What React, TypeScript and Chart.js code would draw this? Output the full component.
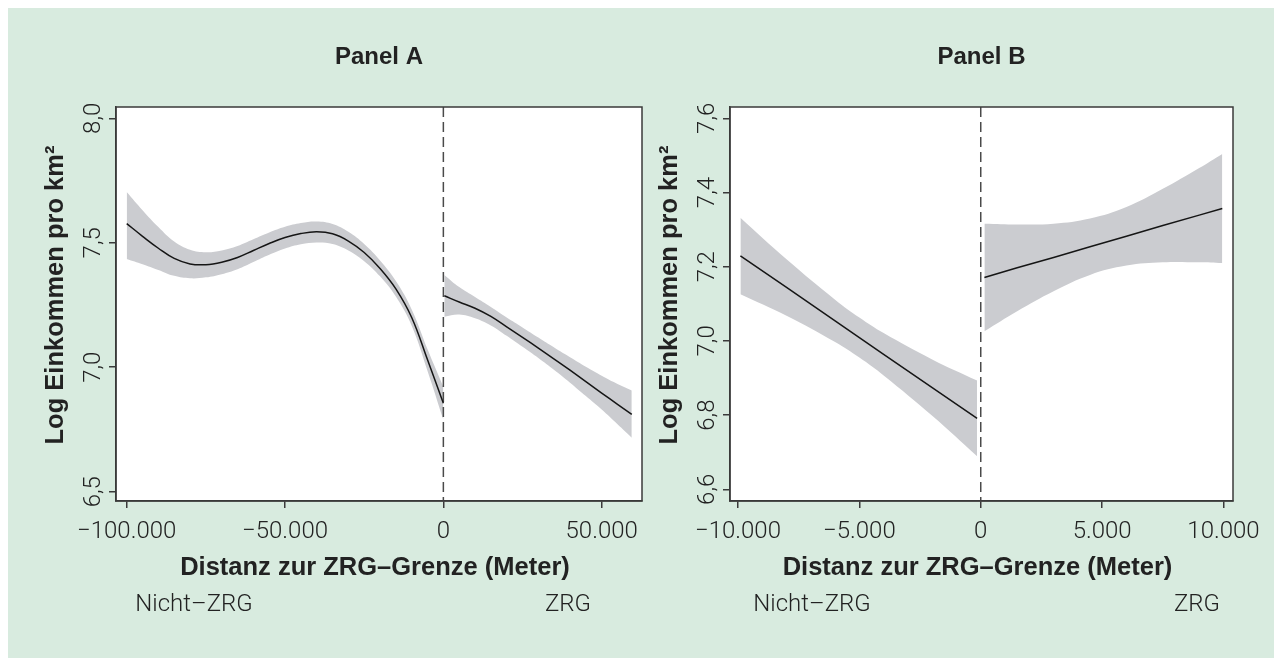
import React, { useEffect, useRef } from 'react';
import { Chart, registerables } from 'chart.js';

Chart.register(...registerables);

// ---------- Panel A data (distance in metres, log income per km²) ----------
const A_LEFT_X = [-100000, -95000, -90000, -85000, -80000, -75000, -70000, -65000, -60000, -55000, -50000, -45000, -40000, -35000, -30000, -25000, -20000, -15000, -10000, -5000, 0];
const A_LEFT_FIT = [7.577, 7.526, 7.478, 7.437, 7.415, 7.412, 7.422, 7.441, 7.469, 7.497, 7.521, 7.537, 7.544, 7.536, 7.507, 7.461, 7.397, 7.315, 7.2, 7.03, 6.855];
const A_LEFT_UPPER = [7.704, 7.631, 7.563, 7.505, 7.472, 7.462, 7.469, 7.487, 7.514, 7.541, 7.564, 7.579, 7.585, 7.575, 7.544, 7.495, 7.429, 7.346, 7.232, 7.072, 6.921];
const A_LEFT_LOWER = [7.435, 7.414, 7.391, 7.367, 7.357, 7.361, 7.374, 7.394, 7.423, 7.452, 7.477, 7.494, 7.501, 7.495, 7.469, 7.426, 7.365, 7.284, 7.167, 6.985, 6.789];

const A_RIGHT_X = [300, 5000, 10000, 15000, 20000, 25000, 30000, 35000, 40000, 45000, 50000, 55000, 59500];
const A_RIGHT_FIT = [7.287, 7.262, 7.237, 7.204, 7.162, 7.12, 7.077, 7.033, 6.988, 6.942, 6.896, 6.851, 6.811];
const A_RIGHT_UPPER = [7.371, 7.322, 7.282, 7.242, 7.2, 7.16, 7.119, 7.079, 7.04, 7.002, 6.966, 6.933, 6.907];
const A_RIGHT_LOWER = [7.203, 7.212, 7.197, 7.168, 7.126, 7.082, 7.037, 6.989, 6.938, 6.884, 6.83, 6.771, 6.717];

const A_X_TICKS = [-100000, -50000, 0, 50000];
const A_Y_TICKS = [6.5, 7.0, 7.5, 8.0];

// ---------- Panel B data ----------
const B_LEFT_X = [-9900, -8000, -6000, -5000, -4000, -2000, -150];
const B_LEFT_FIT = [7.229, 7.144, 7.054, 7.009, 6.964, 6.874, 6.791];
const B_LEFT_UPPER = [7.332, 7.22, 7.111, 7.063, 7.021, 6.95, 6.893];
const B_LEFT_LOWER = [7.126, 7.068, 6.997, 6.955, 6.907, 6.798, 6.689];

const B_RIGHT_X = [150, 1500, 3000, 4500, 6000, 7500, 9000, 9950];
const B_RIGHT_FIT = [7.171, 7.197, 7.225, 7.254, 7.282, 7.311, 7.339, 7.357];
const B_RIGHT_UPPER = [7.316, 7.314, 7.316, 7.33, 7.361, 7.41, 7.466, 7.504];
const B_RIGHT_LOWER = [7.026, 7.08, 7.134, 7.178, 7.203, 7.212, 7.212, 7.21];

const B_X_TICKS = [-10000, -5000, 0, 5000, 10000];
const B_Y_TICKS = [6.6, 6.8, 7.0, 7.2, 7.4, 7.6];

// ---------- texts ----------
const X_TITLE = 'Distanz zur ZRG\u2013Grenze (Meter)';
const Y_TITLE = 'Log Einkommen pro km\u00B2';
const LEFT_LABEL = 'Nicht\u2013ZRG';
const RIGHT_LABEL = 'ZRG';

// ---------- style ----------
const BG = '#d8ebdf';
const BAND = '#cbccd0';
const LINE = '#151515';
const FRAME = '#3a3a3a';
const TEXT = '#222222';
const TICK_FONT = '300 24px Roboto, "Liberation Sans", Arial, sans-serif';
const TITLE_FONT = 'bold 24px "Liberation Sans", Arial, sans-serif';
const AXIS_TITLE_FONT = 'bold 25.5px "Liberation Sans", Arial, sans-serif';
const H = 650;

function fmtX(v: number): string {
  const s = Math.abs(v).toString().replace(/\B(?=(\d{3})+(?!\d))/g, '.');
  return v < 0 ? '\u2212' + s : s;
}
function fmtY(v: number): string {
  return v.toFixed(1).replace('.', ',');
}
function pts(xs: number[], ys: number[]) {
  return xs.map((x, i) => ({ x, y: ys[i] }));
}

type Series = { x: number[]; fit: number[]; up: number[]; lo: number[] };
type Panel = {
  title: string;
  width: number;
  yAxisWidth: number;
  padRight: number;
  xMin: number; xMax: number; yMin: number; yMax: number;
  xTicks: number[]; yTicks: number[];
  left: Series;
  right: Series;
  fitTension: number;
  leftLabelX: number; rightLabelX: number; // canvas px centres of region labels
};

const PANEL_A: Panel = {
  title: 'Panel A', width: 640, yAxisWidth: 108, padRight: 6,
  xMin: -103380, xMax: 62730, yMin: 6.4626, yMax: 8.0454,
  xTicks: A_X_TICKS, yTicks: A_Y_TICKS,
  left: { x: A_LEFT_X, fit: A_LEFT_FIT, up: A_LEFT_UPPER, lo: A_LEFT_LOWER },
  right: { x: A_RIGHT_X, fit: A_RIGHT_FIT, up: A_RIGHT_UPPER, lo: A_RIGHT_LOWER },
  fitTension: 0.4,
  leftLabelX: 186, rightLabelX: 560,
};

const PANEL_B: Panel = {
  title: 'Panel B', width: 626, yAxisWidth: 82, padRight: 41,
  xMin: -10329, xMax: 10391, yMin: 6.5685, yMax: 7.6305,
  xTicks: B_X_TICKS, yTicks: B_Y_TICKS,
  left: { x: B_LEFT_X, fit: B_LEFT_FIT, up: B_LEFT_UPPER, lo: B_LEFT_LOWER },
  right: { x: B_RIGHT_X, fit: B_RIGHT_FIT, up: B_RIGHT_UPPER, lo: B_RIGHT_LOWER },
  fitTension: 0,
  leftLabelX: 164, rightLabelX: 549,
};

function makeDecor(p: Panel) {
  return {
    id: 'decor',
    beforeDraw(chart: any) {
      const { ctx, chartArea: a } = chart;
      ctx.save();
      ctx.fillStyle = '#ffffff';
      ctx.fillRect(a.left, a.top, a.right - a.left, a.bottom - a.top);
      ctx.restore();
    },
    afterDraw(chart: any) {
      const { ctx, chartArea: a, scales } = chart;
      const xs = scales.x;
      const ys = scales.y;
      ctx.save();
      ctx.strokeStyle = FRAME;
      ctx.lineWidth = 1.5;
      ctx.strokeRect(a.left, a.top, a.right - a.left, a.bottom - a.top);

      ctx.fillStyle = TEXT;
      ctx.textAlign = 'center';
      ctx.textBaseline = 'middle';

      ctx.font = TICK_FONT;
      p.xTicks.forEach((v) => ctx.fillText(fmtX(v), xs.getPixelForValue(v), a.bottom + 31));
      p.yTicks.forEach((v) => {
        ctx.save();
        ctx.translate(a.left - 22, ys.getPixelForValue(v));
        ctx.rotate(-Math.PI / 2);
        ctx.fillText(fmtY(v), 0, 0);
        ctx.restore();
      });

      ctx.fillText(LEFT_LABEL, p.leftLabelX, a.bottom + 104);
      ctx.fillText(RIGHT_LABEL, p.rightLabelX, a.bottom + 104);

      const cx = (a.left + a.right) / 2;
      ctx.font = TITLE_FONT;
      ctx.fillText(p.title, cx, 49);
      ctx.font = AXIS_TITLE_FONT;
      ctx.fillText(X_TITLE, cx - 4, a.bottom + 67);
      ctx.save();
      ctx.translate(a.left - 60, (a.top + a.bottom) / 2 - 9);
      ctx.rotate(-Math.PI / 2);
      ctx.fillText(Y_TITLE, 0, 0);
      ctx.restore();
      ctx.restore();
    },
  };
}

function makeConfig(p: Panel): any {
  const bandStyle = { order: 3, borderWidth: 0, borderColor: 'rgba(0,0,0,0)', pointRadius: 0, tension: 0.4 };
  const lineStyle = { order: 0, borderWidth: 1.5, borderColor: LINE, pointRadius: 0, fill: false, tension: p.fitTension };
  const tickAxis = (ticks: number[]) => (s: any) => {
    s.ticks = ticks.map((v) => ({ value: v }));
  };
  return {
    type: 'line',
    data: {
      datasets: [
        { ...bandStyle, data: pts(p.left.x, p.left.up), fill: '+1', backgroundColor: BAND },
        { ...bandStyle, data: pts(p.left.x, p.left.lo), fill: false },
        { ...bandStyle, data: pts(p.right.x, p.right.up), fill: '+1', backgroundColor: BAND },
        { ...bandStyle, data: pts(p.right.x, p.right.lo), fill: false },
        { ...lineStyle, data: pts(p.left.x, p.left.fit) },
        { ...lineStyle, data: pts(p.right.x, p.right.fit) },
        {
          order: 1,
          data: [{ x: 0, y: p.yMax }, { x: 0, y: p.yMin }],
          borderColor: '#4a4a4a', borderWidth: 1.5, borderDash: [10, 5], pointRadius: 0, fill: false,
        },
      ],
    },
    options: {
      animation: false,
      responsive: false,
      events: [],
      layout: { padding: { left: 0, top: 99, right: p.padRight, bottom: 0 } },
      plugins: { legend: { display: false }, title: { display: false }, tooltip: { enabled: false } },
      scales: {
        x: {
          type: 'linear', min: p.xMin, max: p.xMax,
          afterBuildTicks: tickAxis(p.xTicks),
          afterFit: (s: any) => { s.height = 157; },
          ticks: { display: false },
          grid: { display: true, drawOnChartArea: false, drawTicks: true, tickLength: 7, color: FRAME, lineWidth: 1.5 },
          border: { display: true, color: FRAME, width: 1.5 },
        },
        y: {
          type: 'linear', min: p.yMin, max: p.yMax,
          afterBuildTicks: tickAxis(p.yTicks),
          afterFit: (s: any) => { s.width = p.yAxisWidth; },
          ticks: { display: false },
          grid: { display: true, drawOnChartArea: false, drawTicks: true, tickLength: 7, color: FRAME, lineWidth: 1.5 },
          border: { display: true, color: FRAME, width: 1.5 },
        },
      },
    },
    plugins: [makeDecor(p)],
  };
}

function PanelChart({ panel, left }: { panel: Panel; left: number }) {
  const ref = useRef<HTMLCanvasElement>(null);
  useEffect(() => {
    if (!ref.current) return;
    const chart = new Chart(ref.current, makeConfig(panel));
    return () => chart.destroy();
  }, [panel]);
  return (
    <canvas
      ref={ref}
      width={panel.width}
      height={H}
      style={{ position: 'absolute', left, top: 0, width: panel.width, height: H, display: 'block' }}
    />
  );
}

export default function App() {
  return (
    <div style={{ position: 'relative', width: 1266, height: H, background: BG, overflow: 'hidden' }}>
      <PanelChart panel={PANEL_A} left={0} />
      <PanelChart panel={PANEL_B} left={640} />
    </div>
  );
}
